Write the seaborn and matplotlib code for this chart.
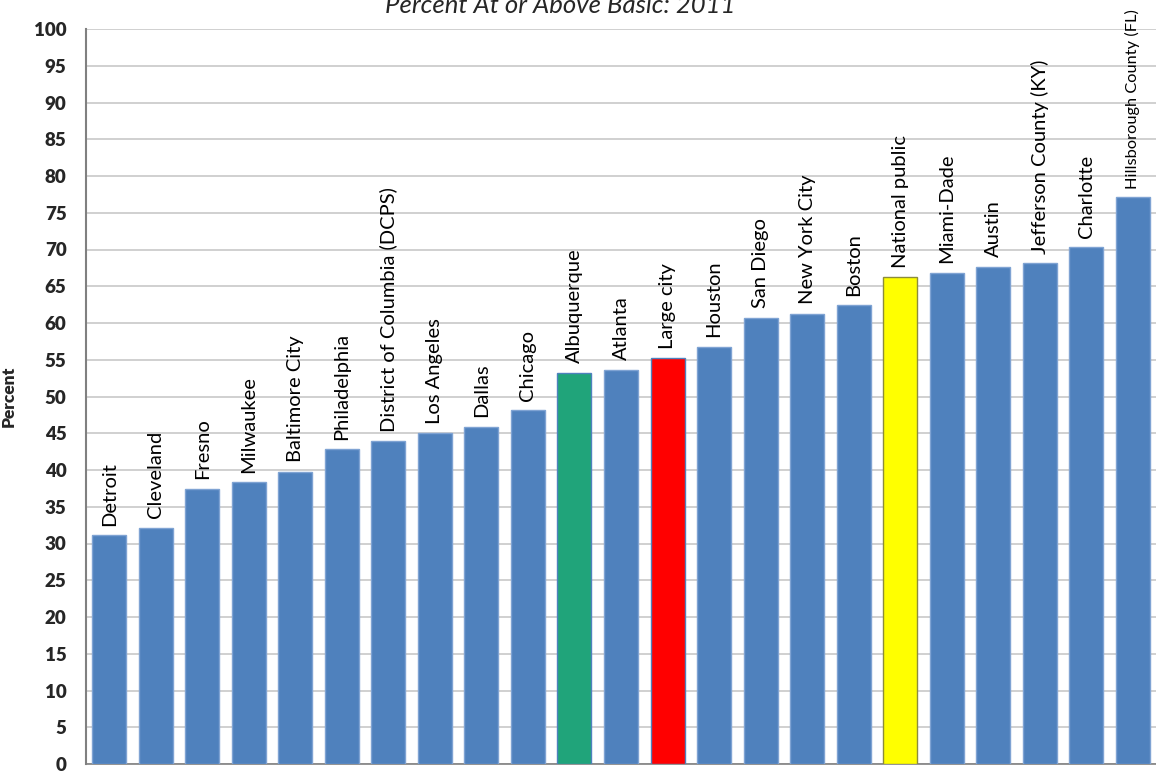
import pandas as pd
import matplotlib.pyplot as plt
import seaborn as sns

# Datos
districts = ["Detroit", "Cleveland", "Fresno", "Milwaukee", "Baltimore City",
             "Philadelphia", "District of Columbia (DCPS)", "Los Angeles", "Dallas",
             "Chicago", "Albuquerque", "Atlanta", "Large city", "Houston", "San Diego",
             "New York City", "Boston", "National public", "Miami-Dade", "Austin",
             "Jefferson County (KY)", "Charlotte", "Hillsborough County (FL)"]
percent = [31.1, 32.1, 37.4, 38.3, 39.7, 42.8, 43.9, 45.0, 45.9, 48.1, 53.2, 53.6,
           55.2, 56.8, 60.7, 61.2, 62.4, 66.2, 66.8, 67.6, 68.1, 70.3, 77.1]

highlight = {"Albuquerque": "#20A47A", "Large city": "#FF0000", "National public": "#FFFF00"}
edge_highlight = {"Albuquerque": "#4F81BD", "Large city": "#4F81BD", "National public": "#8C8C3C"}

df = pd.DataFrame({"District": districts, "Percent": percent})
palette = {d: highlight.get(d, "#4F81BD") for d in districts}

sns.set_style("white")
plt.rcParams['font.family'] = ['Lato', 'DejaVu Sans']

fig = plt.figure(figsize=(11.56, 7.74), dpi=100)
ax = fig.add_axes([86 / 1156, 10 / 774, 1 - 86 / 1156, (764 - 29) / 774])

sns.barplot(data=df, x="District", y="Percent", hue="District", palette=palette,
            legend=False, width=0.73, saturation=1, ax=ax, zorder=3)

for patch, name in zip(ax.patches, districts):
    patch.set_edgecolor(edge_highlight.get(name, "#7FA3D3"))
    patch.set_linewidth(1.0)

# Etiquetas verticales encima de cada barra
for i, (name, val) in enumerate(zip(districts, percent)):
    small = name.startswith("Hillsborough")
    ax.annotate(name, xy=(i, val), xytext=(0, 6 if small else 7), textcoords="offset points",
                rotation=90, ha="center", va="bottom", fontsize=11.8 if small else 14.5,
                color="black", annotation_clip=False)

ax.set_ylim(0, 100)
ax.set_xlim(-0.5, len(districts) - 0.5)
ax.set_yticks(range(0, 101, 5))
ax.set_yticklabels([str(v) for v in range(0, 101, 5)], fontsize=13.5, fontweight="heavy")
ax.set_xticks([])
ax.set_xlabel("")
ax.set_ylabel("Percent", fontsize=12.5, fontweight="heavy")
ax.yaxis.set_label_coords(-69 / 1070, 0.5)
ax.yaxis.grid(True, color="#C8C8C8", linewidth=1.2, zorder=0)
ax.tick_params(axis="y", length=0, pad=14)

for side in ["top", "right"]:
    ax.spines[side].set_visible(False)
ax.spines["left"].set_color("#808080")
ax.spines["left"].set_linewidth(1.5)
ax.spines["bottom"].set_color("#808080")
ax.spines["bottom"].set_linewidth(1.2)

fig.text(560 / 1156, 1 - 13 / 774, "Percent At or Above Basic: 2011", ha="center",
         va="baseline", fontsize=18.5, style="italic")

fig.savefig("out.png", dpi=100)
plt.close(fig)
